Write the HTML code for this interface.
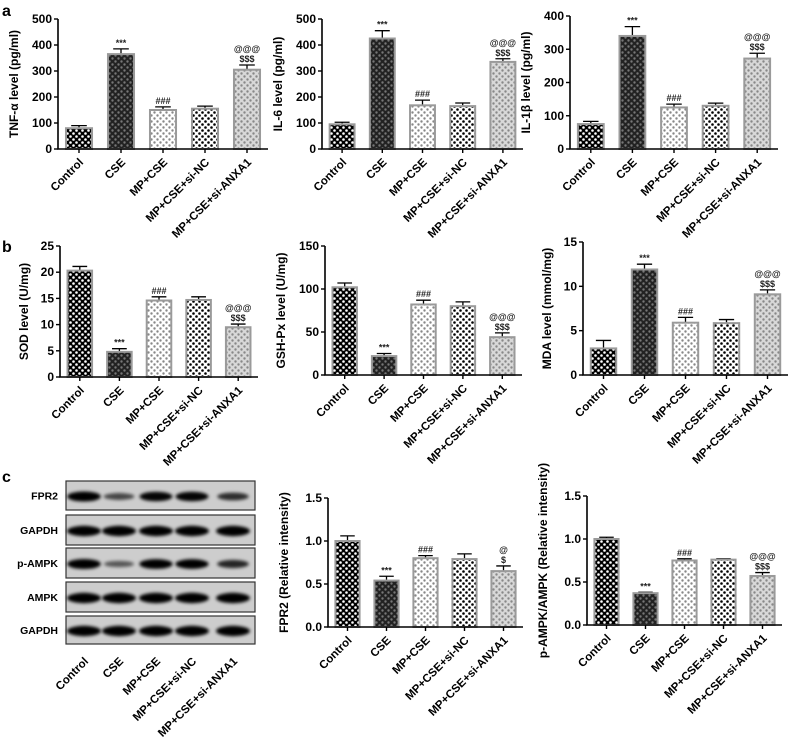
<!DOCTYPE html>
<html><head><meta charset="utf-8">
<style>
html,body{margin:0;padding:0;background:#fff;}
svg{display:block;font-family:"Liberation Sans",Arial,sans-serif;}
</style></head>
<body>
<svg id="fig" width="800" height="741" viewBox="0 0 800 741" xmlns="http://www.w3.org/2000/svg">
<defs>
  <pattern id="p0" width="6" height="6" patternUnits="userSpaceOnUse">
    <rect width="6" height="6" fill="#000"/>
    <circle cx="1.5" cy="1.5" r="1.3" fill="#fff"/><circle cx="4.5" cy="4.5" r="1.3" fill="#fff"/>
  </pattern>
  <pattern id="p1" width="6" height="6" patternUnits="userSpaceOnUse">
    <rect width="6" height="6" fill="#222"/>
    <circle cx="1.5" cy="1.5" r="1.2" fill="#777"/><circle cx="4.5" cy="4.5" r="1.2" fill="#777"/>
  </pattern>
  <pattern id="p2" width="6" height="6" patternUnits="userSpaceOnUse">
    <rect width="6" height="6" fill="#fff"/>
    <circle cx="1.5" cy="1.5" r="1.2" fill="#888"/><circle cx="4.5" cy="4.5" r="1.2" fill="#888"/>
  </pattern>
  <pattern id="p3" width="6" height="6" patternUnits="userSpaceOnUse">
    <rect width="6" height="6" fill="#fff"/>
    <circle cx="1.5" cy="1.5" r="1.3" fill="#000"/><circle cx="4.5" cy="4.5" r="1.3" fill="#000"/>
  </pattern>
  <pattern id="p4" width="6" height="6" patternUnits="userSpaceOnUse">
    <rect width="6" height="6" fill="#d8d8d8"/>
    <circle cx="1.5" cy="1.5" r="1.2" fill="#888"/><circle cx="4.5" cy="4.5" r="1.2" fill="#888"/>
  </pattern>
  <filter id="blur" x="-20%" y="-50%" width="140%" height="200%"><feGaussianBlur stdDeviation="1.6"/></filter>
</defs>
<g id="root"></g>
</svg>
<script>
const categories = ["Control","CSE","MP+CSE","MP+CSE+si-NC","MP+CSE+si-ANXA1"];

const tnfValues = [80,365,150,155,305];
const tnfErrors = [10,20,12,10,18];
const tnfTicks = [0,100,200,300,400,500];
const tnfMarks = ["","***","###","","$$$|@@@"];

const il6Values = [95,425,168,165,335];
const il6Errors = [8,30,20,12,12];
const il6Ticks = [0,100,200,300,400,500];
const il6Marks = ["","***","###","","$$$|@@@"];

const il1bValues = [75,340,125,130,272];
const il1bErrors = [8,28,10,8,16];
const il1bTicks = [0,100,200,300,400];
const il1bMarks = ["","***","###","","$$$|@@@"];

const sodValues = [20.3,4.8,14.6,14.7,9.5];
const sodErrors = [0.8,0.6,0.7,0.6,0.6];
const sodTicks = [0,5,10,15,20,25];
const sodMarks = ["","***","###","","$$$|@@@"];

const gshValues = [102,22,82,80,44];
const gshErrors = [5,3,5,5,5];
const gshTicks = [0,50,100,150];
const gshMarks = ["","***","###","","$$$|@@@"];

const mdaValues = [3.0,11.9,5.9,5.85,9.1];
const mdaErrors = [0.9,0.6,0.6,0.4,0.5];
const mdaTicks = [0,5,10,15];
const mdaMarks = ["","***","###","","$$$|@@@"];

const fpr2Values = [1.0,0.54,0.80,0.79,0.65];
const fpr2Errors = [0.06,0.05,0.03,0.06,0.06];
const fpr2Ticks = [0,0.5,1.0,1.5];
const fpr2TickLabels = ["0.0","0.5","1.0","1.5"];
const fpr2Marks = ["","***","###","","$|@"];

const ampkValues = [1.0,0.37,0.75,0.76,0.57];
const ampkErrors = [0.02,0.01,0.02,0.01,0.04];
const ampkTicks = [0,0.5,1.0,1.5];
const ampkTickLabels = ["0.0","0.5","1.0","1.5"];
const ampkMarks = ["","***","###","","$$$|@@@"];

const blotRows = ["FPR2","GAPDH","p-AMPK","AMPK","GAPDH"];
const blotIntensity = [
  [0.95,0.45,0.85,0.85,0.6],
  [1,1,1,1,1],
  [0.95,0.35,0.9,0.88,0.65],
  [1,1,1,1,1],
  [1,1,1,1,1]
];

const NS="http://www.w3.org/2000/svg";
const root=document.getElementById('root');
function mk(tag,attrs,parent){const e=document.createElementNS(NS,tag);for(const k in attrs)e.setAttribute(k,attrs[k]);(parent||root).appendChild(e);return e;}

function drawChart(id,cfg,values,errors,ticks,tickLabels,marks,title){
  const g=mk('g',{});
  
  
  const yMax=ticks[ticks.length-1];
  const y=v=>cfg.y0-(v/yMax)*(cfg.y0-cfg.yTop);
  const pitch=(cfg.xEnd-cfg.x0)/categories.length;
  const bw=pitch*0.62;
  const xc=i=>cfg.x0+pitch*(i+0.5);
  values.forEach((v,i)=>{
    const top=y(v+errors[i]);
    const eb=mk('path',{d:`M${xc(i)} ${y(v)} V${top} M${xc(i)-bw*0.3} ${top} H${xc(i)+bw*0.3}`,stroke:'#000','stroke-width':1.3,fill:'none'},g);
    
    
    const r=mk('rect',{x:xc(i)-bw/2,y:y(v),width:bw,height:cfg.y0-y(v),fill:`url(#p${i})`,stroke:'#9a9a9a','stroke-width':2},g);
    
    
    if(marks[i]){
      const parts=marks[i].split('|');
      parts.forEach((m,k)=>{
        const t=mk('text',{x:xc(i),y:top-3-k*10,'text-anchor':'middle','font-size':9,'font-weight':'bold',fill:'#222'},g);
        t.textContent=m;
        
        
      });
    }
  });
  const ax=mk('path',{d:`M${cfg.x0} ${cfg.yTop} V${cfg.y0} H${cfg.xEnd}`,stroke:'#000','stroke-width':1.6,fill:'none'},g);
  
  
  ticks.forEach((tv,k)=>{
    mk('line',{x1:cfg.x0-4,x2:cfg.x0,y1:y(tv),y2:y(tv),stroke:'#000','stroke-width':1.4},g);
    const t=mk('text',{x:cfg.x0-6,y:y(tv)+4,'text-anchor':'end','font-size':12,'font-weight':'bold'},g);
    t.textContent=tickLabels?tickLabels[k]:String(tv);
    
    
  });
  categories.forEach((c,i)=>{
    mk('line',{x1:xc(i),x2:xc(i),y1:cfg.y0,y2:cfg.y0+4,stroke:'#000','stroke-width':1.4},g);
    const t=mk('text',{x:xc(i)+5,y:cfg.y0+14,'text-anchor':'end','font-size':11.5,'font-weight':'bold',transform:`rotate(-45 ${xc(i)+5} ${cfg.y0+14})`},g);
    t.textContent=c;
    
    
  });
  const ty=(cfg.y0+cfg.yTop)/2;
  const tt=mk('text',{x:cfg.x0-cfg.titleOff,y:ty,'text-anchor':'middle','font-size':12,'font-weight':'bold',transform:`rotate(-90 ${cfg.x0-cfg.titleOff} ${ty})`},g);
  tt.textContent=title;
  
  
}

drawChart('tnf',{x0:58,xEnd:268,y0:149,yTop:19,titleOff:40},tnfValues,tnfErrors,tnfTicks,null,tnfMarks,'TNF-α level (pg/ml)');
drawChart('il6',{x0:322,xEnd:523,y0:149,yTop:19,titleOff:40},il6Values,il6Errors,il6Ticks,null,il6Marks,'IL-6 level (pg/ml)');
drawChart('il1b',{x0:570,xEnd:778,y0:149,yTop:16,titleOff:40},il1bValues,il1bErrors,il1bTicks,null,il1bMarks,'IL-1β level (pg/ml)');
drawChart('sod',{x0:60,xEnd:258,y0:377,yTop:246,titleOff:32},sodValues,sodErrors,sodTicks,null,sodMarks,'SOD level (U/mg)');
drawChart('gsh',{x0:325,xEnd:522,y0:375,yTop:246,titleOff:40},gshValues,gshErrors,gshTicks,null,gshMarks,'GSH-Px level (U/mg)');
drawChart('mda',{x0:583,xEnd:788,y0:375,yTop:242,titleOff:32},mdaValues,mdaErrors,mdaTicks,null,mdaMarks,'MDA level (mmol/mg)');
drawChart('fpr2',{x0:328,xEnd:523,y0:627,yTop:498,titleOff:40},fpr2Values,fpr2Errors,fpr2Ticks,fpr2TickLabels,fpr2Marks,'FPR2 (Relative intensity)');
drawChart('ampk',{x0:587,xEnd:782,y0:625,yTop:496,titleOff:40},ampkValues,ampkErrors,ampkTicks,ampkTickLabels,ampkMarks,'p-AMPK/AMPK (Relative intensity)');

[['a',2,16],['b',2,252],['c',2,482]].forEach(([l,x,yy])=>{
  const t=mk('text',{x:x,y:yy,'font-size':16,'font-weight':'bold'});
  t.textContent=l;
  
  
});

const blotY=[[481,510],[515,545],[548,578],[582,612],[616,644]];
const laneX=[84,119,156,192,233];
const blot=mk('g',{});


blotRows.forEach((name,r)=>{
  const [a,b]=blotY[r];
  const box=mk('rect',{x:66,y:a,width:189,height:b-a,fill:'#cdcdcd',stroke:'#333','stroke-width':1.2},blot);
  
  
  const cy=(a+b)/2+1;
  blotIntensity[r].forEach((v,l)=>{
    const e=mk('ellipse',{cx:laneX[l],cy:cy,rx:14+3*v,ry:2+3.2*v,fill:'#000','fill-opacity':Math.min(1,0.3+v*0.8),filter:'url(#blur)'},blot);
    
    
  });
  const t=mk('text',{x:58,y:cy+3,'text-anchor':'end','font-size':10.5,'font-weight':'bold'},blot);
  t.textContent=name;
  
  
});
categories.forEach((c,i)=>{
  const x=laneX[i]+5, yy=662;
  const t=mk('text',{x:x,y:yy,'text-anchor':'end','font-size':11.5,'font-weight':'bold',transform:`rotate(-45 ${x} ${yy})`},blot);
  t.textContent=c;
  
  
});
</script>
</body></html>
